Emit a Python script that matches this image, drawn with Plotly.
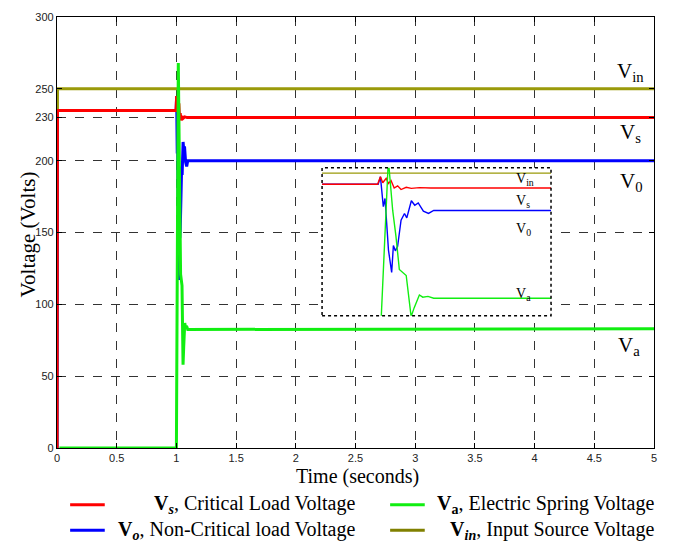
import plotly.graph_objects as go

# ---- time series (seconds, volts) ----
vin_t = [0, 0.004, 5]
vin_v = [0, 250, 250]

vs_t = [0, 0.004, 0.997, 1.002, 1.006, 1.012, 1.016, 1.0205, 1.026, 1.032, 1.038, 1.047, 1.056, 1.07, 1.09, 5]
vs_v = [0, 235, 235, 245, 237, 243, 236, 240, 230, 233, 228, 231, 229.5, 230.5, 230, 230]

vo_t = [0, 0.004, 0.998, 1.002, 1.007, 1.010, 1.016, 1.0187, 1.0216, 1.0246, 1.028, 1.032, 1.038,
        1.044, 1.048, 1.056, 1.062, 1.068, 1.077, 1.086, 1.095, 5]
vo_v = [0, 235, 235, 245, 205, 216, 147, 130, 117, 153, 146, 152, 187,
        196, 190, 213, 207, 210, 199, 196, 200, 200]

va_t = [0.02, 1.0, 1.0158, 1.0234, 1.029, 1.035, 1.047, 1.0526, 1.0556, 1.061, 1.070, 1.076, 1.085, 1.095, 5]
va_v = [0, 0, 268, 200, 166, 121, 113, 78, 58, 70, 87, 84, 85, 82.5, 83]

series = [
    ("V_in", vin_t, vin_v, "#9a9a0a"),
    ("V_o", vo_t, vo_v, "#0000ff"),
    ("V_s", vs_t, vs_v, "#ff0000"),
    ("V_a", va_t, va_v, "#11ee11"),
]

x_ticks = [0, 0.5, 1, 1.5, 2, 2.5, 3, 3.5, 4, 4.5, 5]
x_ticktext = ["0", "0.5", "1", "1.5", "2", "2.5", "3", "3.5", "4", "4.5", "5"]
y_ticks = [0, 50, 100, 150, 200, 230, 250, 300]

inset_x = [0.9, 1.3]
inset_y = [59, 257]

# legend columns: (label, sample colour) pairs, top row first
legend_cols = [
    [("<b>V<sub><i>s</i></sub></b>, Critical Load Voltage", "#ff0000"),
     ("<b>V<sub><i>o</i></sub></b>, Non-Critical load Voltage", "#0000ff")],
    [("<b>V<sub>a</sub></b>, Electric Spring Voltage", "#11ee11"),
     ("<b>V<sub><i>in</i></sub></b>, Input Source Voltage", "#808000")],
]

SERIF = "Liberation Serif, Times New Roman, serif"
SANS = "Liberation Sans, Arial, sans-serif"

fig = go.Figure()

# main plot traces
for name, t, v, c in series:
    fig.add_trace(go.Scatter(x=t, y=v, mode="lines", name=name,
                             line=dict(color=c, width=3), showlegend=False,
                             hoverinfo="skip", xaxis="x", yaxis="y"))

# white panel behind the zoomed inset
fig.add_trace(go.Scatter(
    x=[inset_x[0], inset_x[1], inset_x[1], inset_x[0], inset_x[0]],
    y=[inset_y[0], inset_y[0], inset_y[1], inset_y[1], inset_y[0]],
    mode="lines", fill="toself", fillcolor="white", line=dict(width=0),
    showlegend=False, hoverinfo="skip", xaxis="x2", yaxis="y2"))

# zoomed inset traces
for name, t, v, c in series:
    fig.add_trace(go.Scatter(x=t, y=v, mode="lines", name=name + " (zoom)",
                             line=dict(color=c, width=1.4), showlegend=False,
                             hoverinfo="skip", xaxis="x2", yaxis="y2"))

axis_common = dict(showline=True, linecolor="black", linewidth=1.3, mirror="ticks",
                   ticks="inside", ticklen=5, tickcolor="black",
                   showgrid=True, gridcolor="#333333", griddash="dash", gridwidth=1,
                   zeroline=False, tickfont=dict(family=SANS, size=11, color="#222222"))

fig.update_layout(
    width=673, height=545,
    margin=dict(l=57, r=19, t=11, b=97),
    paper_bgcolor="white", plot_bgcolor="white",
    xaxis=dict(range=[0, 5], tickvals=x_ticks, ticktext=x_ticktext, domain=[0, 1], **axis_common),
    yaxis=dict(range=[0, 300], tickvals=y_ticks, domain=[0, 1], **axis_common),
    xaxis2=dict(range=inset_x, domain=[0.444, 0.8275], anchor="y2", showticklabels=False,
                showgrid=False, zeroline=False, showline=False, ticks=""),
    yaxis2=dict(range=inset_y, domain=[0.3066, 0.650], anchor="x2", showticklabels=False,
                tickvals=[230], showgrid=True, gridcolor="black", griddash="dash", gridwidth=1,
                zeroline=False, showline=False, ticks=""),
    showlegend=False,
)

# dotted frame of the inset
fig.add_shape(type="rect", xref="x2 domain", yref="y2 domain", x0=0, x1=1, y0=0, y1=1,
              line=dict(color="black", width=1.5, dash="dot"), layer="above")

ann = []
# axis titles
ann.append(dict(text="Time (seconds)", x=0.503, y=-0.066, xref="paper", yref="paper",
                xanchor="center", yanchor="middle", showarrow=False,
                font=dict(family=SERIF, size=20, color="black")))
ann.append(dict(text="Voltage (Volts)", x=-0.049, y=0.495, xref="paper", yref="paper",
                xanchor="center", yanchor="middle", textangle=-90, showarrow=False,
                font=dict(family=SERIF, size=21, color="black")))

# series labels on the main plot
for txt, yv, xv in [("V<sub>in</sub>", 262, 4.67), ("V<sub>s</sub>", 219, 4.70),
                    ("V<sub>0</sub>", 185, 4.70), ("V<sub>a</sub>", 71, 4.68)]:
    ann.append(dict(text=txt, x=xv, y=yv, xref="x", yref="y", xanchor="left", yanchor="middle",
                    showarrow=False, font=dict(family=SERIF, size=21, color="black")))

# series labels inside the inset
for txt, yv in [("V<sub>in</sub>", 241), ("V<sub>s</sub>", 212), ("V<sub>0</sub>", 174), ("V<sub>a</sub>", 87)]:
    ann.append(dict(text=txt, x=1.235, y=yv, xref="x2", yref="y2", xanchor="left", yanchor="middle",
                    showarrow=False, font=dict(family=SERIF, size=14, color="black")))

# legend below the axes: one right-aligned text block per column plus line samples
col_line = [(0.022, 0.080), (0.558, 0.616)]
col_text_right = [0.5025, 1.0034]
row_y = [-0.1316, -0.1911]
for col, entries in enumerate(legend_cols):
    for r, (label, color) in enumerate(entries):
        fig.add_shape(type="line", xref="paper", yref="paper",
                      x0=col_line[col][0], x1=col_line[col][1], y0=row_y[r], y1=row_y[r],
                      line=dict(color=color, width=3))
    ann.append(dict(text="<br>".join(lbl for lbl, _ in entries),
                    x=col_text_right[col], y=(row_y[0] + row_y[1]) / 2, xref="paper", yref="paper",
                    xanchor="right", yanchor="middle", align="right", showarrow=False,
                    font=dict(family=SERIF, size=20, color="black")))

fig.update_layout(annotations=ann)
fig.write_html("out.html")
